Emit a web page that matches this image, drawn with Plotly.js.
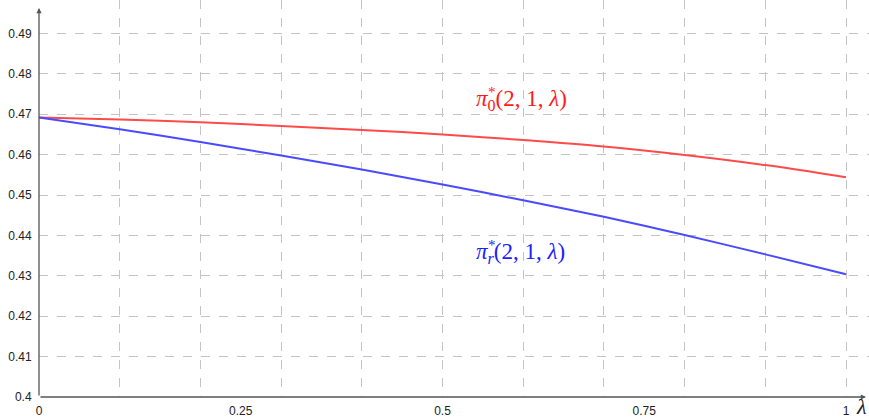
<!DOCTYPE html>
<html>
<head>
<meta charset="utf-8">
<script src="https://cdn.plot.ly/plotly-3.0.1.min.js"></script>
<style>html,body{margin:0;padding:0;background:#fff;}#chart{width:869px;height:419px;}</style>
</head>
<body>
<div id="chart"></div>
<script>
// Data
const lambdaVals = [0, 0.1, 0.2, 0.3, 0.4, 0.5, 0.6, 0.7, 0.8, 0.9, 1];
const pi0Vals = [0.4692, 0.4687, 0.4680, 0.4671, 0.4661, 0.4650, 0.4636, 0.4620, 0.4599, 0.4574, 0.4544];
const piRVals = [0.4692, 0.4663, 0.4631, 0.4598, 0.4563, 0.4526, 0.4487, 0.4446, 0.4401, 0.4353, 0.4304];
const xTickVals = [0, 0.25, 0.5, 0.75, 1];
const xTickText = ['0', '0.25', '0.5', '0.75', '1'];
const yTickVals = [0.4, 0.41, 0.42, 0.43, 0.44, 0.45, 0.46, 0.47, 0.48, 0.49];
const yTickText = ['0.4', '0.41', '0.42', '0.43', '0.44', '0.45', '0.46', '0.47', '0.48', '0.49'];
const label0 = '<i>π</i><sub>0</sub>(2, 1, <i>λ</i>)';
const labelR = '<i>π</i><sub><i>r</i></sub>(2, 1, <i>λ</i>)';
const starText = '*';
const axisTitle = '<i>λ</i>';

const xRange = [0, 1.0285];
const yRange = [0.4, 0.49827];
const gridColor = '#c4c4c4';
const axisColor = '#555555';
const serif = 'Liberation Serif, DejaVu Serif, serif';

const traces = [
  {x: lambdaVals, y: pi0Vals, type: 'scatter', mode: 'lines',
   line: {color: '#ff4a4a', width: 2, shape: 'spline', smoothing: 0.8}, xaxis: 'x', yaxis: 'y', hoverinfo: 'skip'},
  {x: lambdaVals, y: piRVals, type: 'scatter', mode: 'lines',
   line: {color: '#4a4aff', width: 2, shape: 'spline', smoothing: 0.8}, xaxis: 'x', yaxis: 'y', hoverinfo: 'skip'},
  // invisible trace so the overlay axis carrying the 0.1 grid is drawn
  {x: [lambdaVals[0]], y: [pi0Vals[0]], type: 'scatter', mode: 'markers',
   marker: {opacity: 0}, xaxis: 'x2', yaxis: 'y', hoverinfo: 'skip'}
];

const tickFont = {family: 'Liberation Sans, Arial, sans-serif', size: 12, color: '#222'};

const layout = {
  width: 869, height: 419,
  margin: {l: 39, r: 0, t: 0, b: 22},
  paper_bgcolor: '#fff', plot_bgcolor: '#fff',
  showlegend: false,
  xaxis: {
    range: xRange, tickmode: 'array', tickvals: xTickVals, ticktext: xTickText,
    showgrid: false, zeroline: false, showline: false,
    ticks: 'outside', ticklen: 3, tickcolor: 'rgba(0,0,0,0)',
    tickfont: tickFont
  },
  xaxis2: {
    range: xRange, overlaying: 'x', anchor: 'y', side: 'bottom',
    tick0: 0, dtick: 0.1, showticklabels: false, ticks: '',
    showgrid: true, gridcolor: gridColor, griddash: 'dash', gridwidth: 1,
    zeroline: false, showline: false
  },
  yaxis: {
    range: yRange, tickmode: 'array', tickvals: yTickVals, ticktext: yTickText,
    showgrid: true, gridcolor: gridColor, griddash: 'dash', gridwidth: 1,
    zeroline: false, showline: false,
    ticks: 'outside', ticklen: 4, tickcolor: 'rgba(0,0,0,0)',
    tickfont: tickFont
  },
  annotations: [
    {x: 1.0248, y: 0.4, ax: 0, ay: 0.4, xref: 'x', yref: 'y', axref: 'x', ayref: 'y',
     text: '', showarrow: true, arrowhead: 2, arrowsize: 0.8, arrowwidth: 1.3, arrowcolor: axisColor, standoff: 0, startstandoff: 0},
    {x: 0, y: 0.49629, ax: 0, ay: 0.4, xref: 'x', yref: 'y', axref: 'x', ayref: 'y',
     text: '', showarrow: true, arrowhead: 2, arrowsize: 0.8, arrowwidth: 1.3, arrowcolor: axisColor, standoff: 0, startstandoff: 0},
    {x: 0.539, y: 0.4735, xref: 'x', yref: 'y', xanchor: 'left', text: label0, showarrow: false,
     font: {family: serif, size: 23, color: '#ff1a1a'}},
    {x: 0.5615, y: 0.47540, xref: 'x', yref: 'y', text: starText, showarrow: false,
     font: {family: serif, size: 15, color: '#ff1a1a'}},
    {x: 0.539, y: 0.43564, xref: 'x', yref: 'y', xanchor: 'left', text: labelR, showarrow: false,
     font: {family: serif, size: 23, color: '#2020ff'}},
    {x: 0.5615, y: 0.43754, xref: 'x', yref: 'y', text: starText, showarrow: false,
     font: {family: serif, size: 15, color: '#2020ff'}},
    {x: 1, y: -10 / 397, xref: 'paper', yref: 'paper', xanchor: 'right', yanchor: 'middle',
     text: axisTitle, showarrow: false,
     font: {family: serif, size: 22, color: '#222'}}
  ]
};

Plotly.newPlot('chart', traces, layout, {displayModeBar: false, staticPlot: true});
</script>
</body>
</html>
